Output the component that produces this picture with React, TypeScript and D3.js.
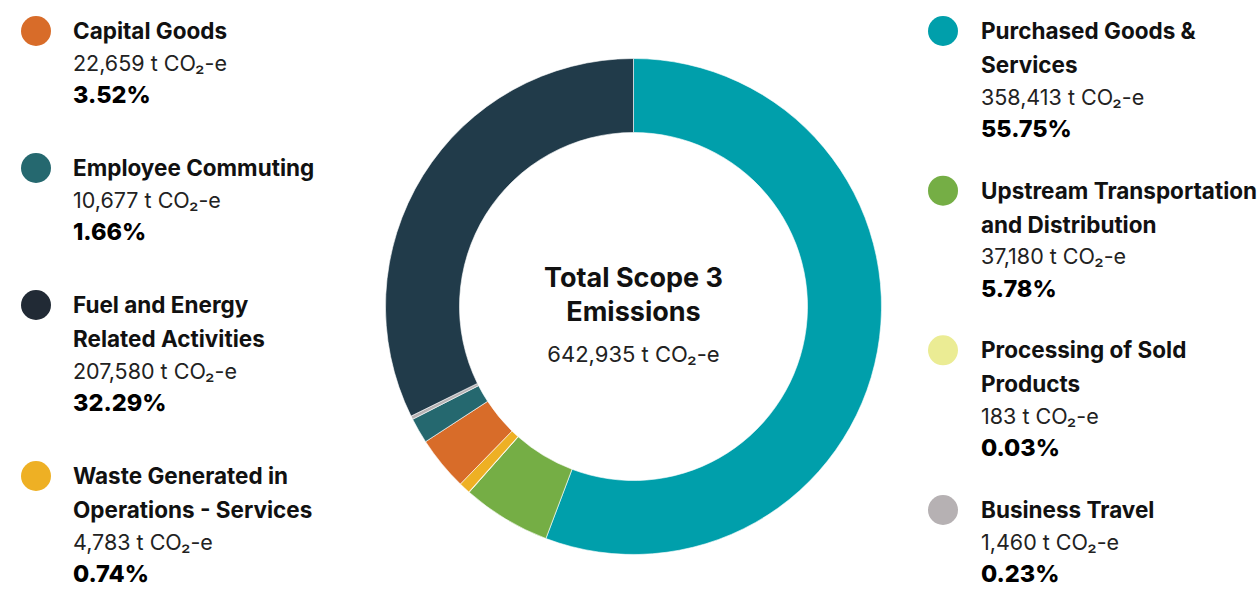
import React from "react";
import * as d3 from "d3";

const categories = [
  "Purchased Goods & Services",
  "Upstream Transportation and Distribution",
  "Processing of Sold Products",
  "Waste Generated in Operations - Services",
  "Capital Goods",
  "Employee Commuting",
  "Business Travel",
  "Fuel and Energy Related Activities",
];
const labelLines = [
  ["Purchased Goods &", "Services"],
  ["Upstream Transportation", "and Distribution"],
  ["Processing of Sold", "Products"],
  ["Waste Generated in", "Operations - Services"],
  ["Capital Goods"],
  ["Employee Commuting"],
  ["Business Travel"],
  ["Fuel and Energy", "Related Activities"],
];
const emissions = [358413, 37180, 183, 4783, 22659, 10677, 1460, 207580];
const percents = ["55.75%", "5.78%", "0.03%", "0.74%", "3.52%", "1.66%", "0.23%", "32.29%"];
const totalLabel = "642,935 t CO₂-e";
const centerTitle = ["Total Scope 3", "Emissions"];

const sliceColors = ["#009FAB", "#75AE45", "#EBEC94", "#EEB024", "#D86C29", "#25686F", "#B6B1B3", "#213B4A"];
const dotColors = ["#009FAB", "#75AE45", "#EBEC94", "#EEB024", "#D86C29", "#25686F", "#B6B1B3", "#212A35"];

const leftOrder = [4, 5, 7, 3];
const rightOrder = [0, 1, 2, 6];

const W = 1258;
const H = 589;
const FONT = "Inter, 'Noto Sans', sans-serif";

const fmt = d3.format(",");

function Legend({ order, dotX, textX }: { order: number[]; dotX: number; textX: number }) {
  const titlePitch = 34;
  const valuePitch = 32;
  const top = 31;
  const bottom = 574;
  const heights = order.map((i) => titlePitch * (labelLines[i].length - 1) + valuePitch * 2);
  const total = d3.sum(heights);
  const gap = (bottom - top - total) / (order.length - 1);
  let y = top;
  const items = order.map((i, k) => {
    const y0 = y;
    y += heights[k] + gap;
    const lines = labelLines[i];
    const valueY = y0 + titlePitch * (lines.length - 1) + valuePitch;
    const pctY = valueY + valuePitch - 0.5;
    return (
      <g key={i}>
        <circle cx={dotX} cy={y0} r={15} fill={dotColors[i]} />
        {lines.map((ln, j) => (
          <text key={j} x={textX} y={y0 + j * titlePitch} dy="0.36em" fontSize={22.5} fontWeight={700} fill="#111">
            {ln}
          </text>
        ))}
        <text x={textX} y={valueY} dy="0.36em" fontSize={21.5} fontWeight={400} fill="#222">
          {fmt(emissions[i])} t CO₂-e
        </text>
        <text x={textX} y={pctY} dy="0.36em" fontSize={23.5} fontWeight={800} fill="#000">
          {percents[i]}
        </text>
      </g>
    );
  });
  return <g>{items}</g>;
}

export default function App() {
  const cx = 633.5;
  const cy = 306.5;
  const pie = d3
    .pie<number>()
    .sort(null)
    .value((d) => d)
    .startAngle(0)
    .endAngle(2 * Math.PI);
  const arcs = pie(emissions);
  const arc = d3.arc<d3.PieArcDatum<number>>().innerRadius(174).outerRadius(248);

  return (
    <svg
      width={W}
      height={H}
      style={{ position: "fixed", left: 0, top: 0, background: "#fff", fontFamily: FONT }}
    >
      <g transform={`translate(${cx},${cy})`}>
        {arcs.map((a, i) => (
          <path key={categories[i]} d={arc(a) || ""} fill={sliceColors[i]} stroke="#ffffff" strokeWidth={0.6} />
        ))}
        <text x={0} y={-29} dy="0.36em" textAnchor="middle" fontSize={27} fontWeight={700} fill="#111">
          {centerTitle[0]}
        </text>
        <text x={0} y={5} dy="0.36em" textAnchor="middle" fontSize={27} fontWeight={700} fill="#111">
          {centerTitle[1]}
        </text>
        <text x={0} y={48} dy="0.36em" textAnchor="middle" fontSize={22} fontWeight={400} fill="#222">
          {totalLabel}
        </text>
      </g>
      <Legend order={leftOrder} dotX={36} textX={73} />
      <Legend order={rightOrder} dotX={943} textX={981} />
    </svg>
  );
}
